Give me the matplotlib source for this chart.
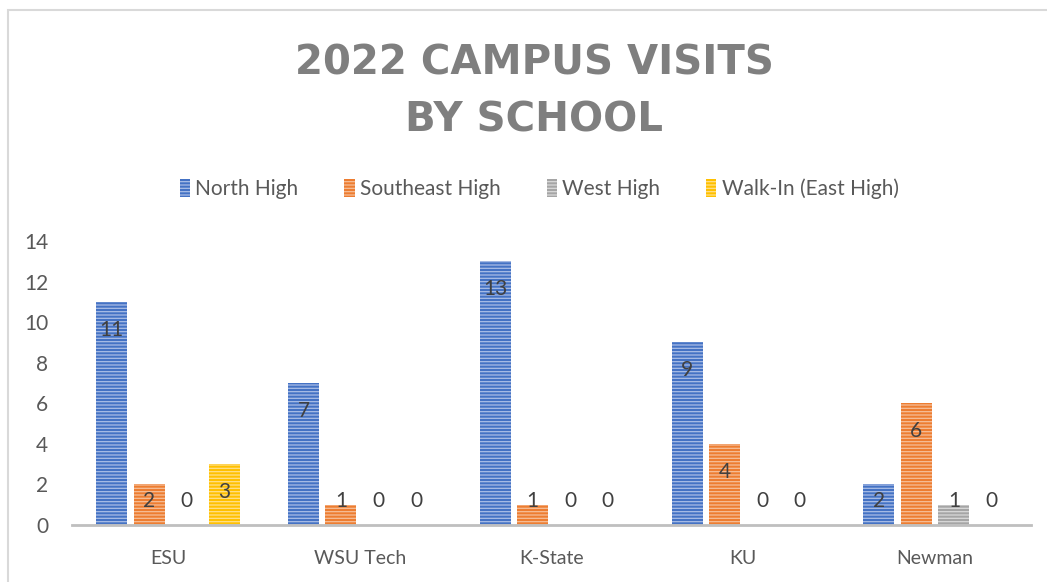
import matplotlib
matplotlib.use("Agg")
import matplotlib.pyplot as plt
from matplotlib.patches import Rectangle
import numpy as np

schools = ["ESU", "WSU Tech", "K-State", "KU", "Newman"]
series_names = ["North High", "Southeast High", "West High", "Walk-In (East High)"]
north_high = [11, 7, 13, 9, 2]
southeast_high = [2, 1, 1, 4, 6]
west_high = [0, 0, 0, 0, 1]
walk_in = [3, 0, 0, 0, 0]

face_colors = ["#4472C4", "#ED7D31", "#A5A5A5", "#FFC000"]
stripe_colors = ["#A9BDE6", "#F6BE98", "#D9D9D9", "#FFE08A"]

plt.rcParams["font.family"] = ["Lato", "DejaVu Sans"]
plt.rcParams["hatch.linewidth"] = 0.9

fig = plt.figure(figsize=(10.47, 5.82), dpi=100)
ax = fig.add_axes([72 / 1047, 1 - 525 / 582, (1031 - 72) / 1047, (525 - 241) / 582])

x = np.arange(len(schools))
pitch = 0.1955
width = 0.162
all_series = [north_high, southeast_high, west_high, walk_in]
handles = []
for i, vals in enumerate(all_series):
    pos = x + (i - 1.5) * pitch
    bars = ax.bar(pos, vals, width, color=face_colors[i], edgecolor=stripe_colors[i],
                  linewidth=0, hatch="-----", label=series_names[i], zorder=2)
    handles.append(bars)
    for p, v in zip(pos, vals):
        # inside end, but never lower than the baseline slot
        ly = max(v - 1.38, 1.18)
        ax.text(p, ly, str(v), ha="center", va="center", fontsize=15, color="#404040", zorder=3)

ax.set_xlim(-0.5, len(schools) - 0.5)
ax.set_ylim(0, 14)
ax.set_yticks(range(0, 15, 2))
ax.set_xticks(x)
ax.set_xticklabels(schools)
ax.tick_params(axis="y", length=0, pad=17, labelsize=15, labelcolor="#595959")
ax.tick_params(axis="x", length=0, pad=18, labelsize=14, labelcolor="#595959")
for side in ["top", "right", "left"]:
    ax.spines[side].set_visible(False)
ax.spines["bottom"].set_color("#BFBFBF")
ax.spines["bottom"].set_linewidth(2)
ax.set_facecolor("none")

fig.text(0.51, 1 - 92 / 582, "2022 CAMPUS VISITS\nBY SCHOOL", ha="center", va="center",
         fontsize=29, fontweight="bold", color="#7F7F7F", family="DejaVu Sans", linespacing=1.57)

leg = fig.legend(handles=handles, loc="center", bbox_to_anchor=(0.515, 1 - 189 / 582), ncol=4,
                 frameon=False, fontsize=15, handlelength=0.5, handleheight=1.0,
                 handletextpad=0.25, columnspacing=2.2, labelcolor="#595959")

# chart frame
fig.patches.append(Rectangle((8 / 1047, -0.1), 1.2, 1 - 10 / 582 + 0.1, transform=fig.transFigure,
                             fill=False, edgecolor="#D9D9D9", linewidth=1.5))

fig.savefig("out.png", dpi=100)
